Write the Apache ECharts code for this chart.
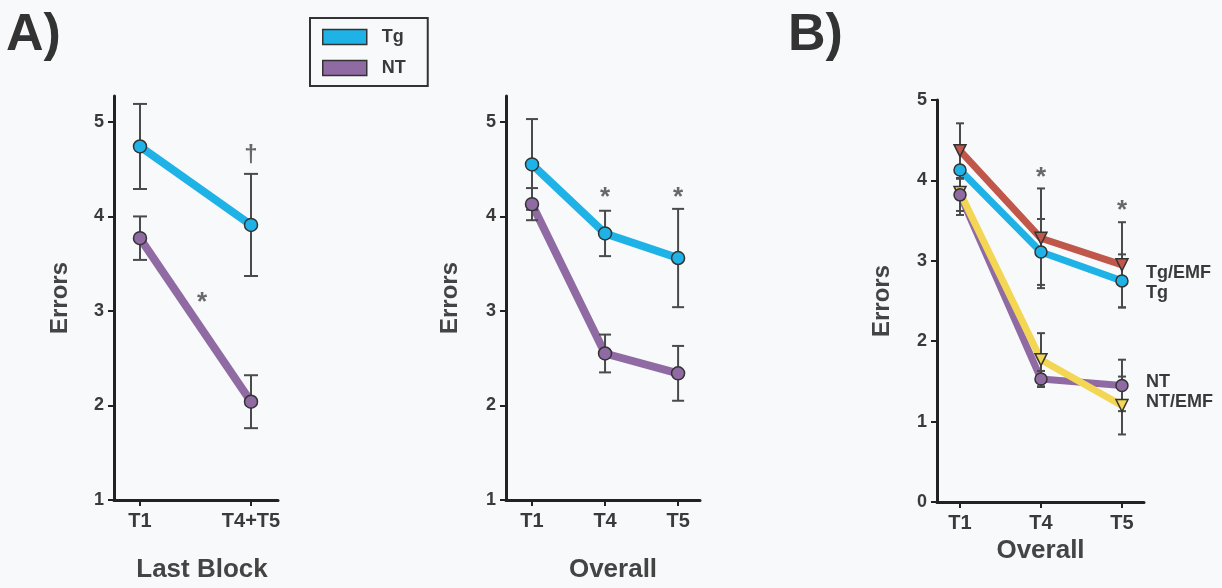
<!DOCTYPE html>
<html>
<head>
<meta charset="utf-8">
<script src="https://cdn.jsdelivr.net/npm/echarts@6/dist/echarts.min.js"></script>
<style>
html,body{margin:0;padding:0;background:#f8f9fa;}
#chart{width:1222px;height:588px;}
</style>
</head>
<body>
<div id="chart"></div>
<script>
// ---------- data ----------
const catsA = ['T1', 'T4+T5'];
const tgA = [4.74, 3.91];
const tgAErr = [0.45, 0.54];
const ntA = [3.77, 2.04];
const ntAErr = [0.23, 0.28];

const catsB = ['T1', 'T4', 'T5'];
const tgB = [4.55, 3.82, 3.56];
const tgBErr = [0.48, 0.24, 0.52];
const ntB = [4.13, 2.55, 2.34];
const ntBErr = [0.17, 0.20, 0.29];

const catsC = ['T1', 'T4', 'T5'];
const tgEmfC = [4.37, 3.28, 2.95];
const tgEmfCErr = [0.34, 0.62, 0.53];
const tgC = [4.13, 3.11, 2.75];
const tgCErr = [0.30, 0.41, 0.33];
const ntC = [3.82, 1.53, 1.45];
const ntCErr = [0.20, 0.10, 0.32];
const ntEmfC = [3.85, 1.77, 1.20];
const ntEmfCErr = [0.28, 0.33, 0.36];

const yTicksAB = [1, 2, 3, 4, 5];
const yTicksC = [0, 1, 2, 3, 4, 5];

// significance marks: [x position (category index), y value, symbol]
const marksA = [[1, 4.65, '†'], [0.56, 3.14, '*']];
const marksB = [[1, 4.25, '*'], [2, 4.25, '*']];
const marksC = [[1, 4.09, '*'], [2, 3.68, '*']];

// ---------- style ----------
const FONT = '"Liberation Sans", Arial, Helvetica, sans-serif';
const TXT = '#3a3a3a';
const COL = { tg: '#1fb2e6', nt: '#8f6aa3', tgEmf: '#c0574b', ntEmf: '#f2d654' };

const chart = echarts.init(document.getElementById('chart'), null, { renderer: 'canvas' });

function xAxisDef(gi, cats, min, max, name, pad) {
  const idx = cats.map((c, i) => i);
  return {
    type: 'value', gridIndex: gi, min: min, max: max,
    axisLine: { show: true, onZero: false, lineStyle: { color: '#222', width: 3 } },
    axisTick: { show: true, length: 6, lineStyle: { color: '#222', width: 2 }, customValues: idx },
    axisLabel: { show: true, customValues: idx, formatter: v => cats[Math.round(v)] || '',
      fontFamily: FONT, fontSize: 20, fontWeight: 'bold', color: TXT, margin: 11 },
    splitLine: { show: false },
    name: name, nameLocation: 'middle', nameGap: pad[0],
    nameTextStyle: { fontFamily: FONT, fontSize: 26, fontWeight: 'bold', color: '#444', padding: [0, 0, 0, pad[1]] }
  };
}
function yAxisDef(gi, ticks, min, max, gap) {
  return {
    type: 'value', gridIndex: gi, min: min, max: max,
    axisLine: { show: true, onZero: false, lineStyle: { color: '#222', width: 3 } },
    axisTick: { show: true, length: 6, lineStyle: { color: '#222', width: 2 }, customValues: ticks },
    axisLabel: { show: true, customValues: ticks, fontFamily: FONT, fontSize: 18, fontWeight: 'bold', color: TXT, margin: 10 },
    splitLine: { show: false },
    name: 'Errors', nameLocation: 'middle', nameGap: gap, nameRotate: 90,
    nameTextStyle: { fontFamily: FONT, fontSize: 24, fontWeight: 'bold', color: '#444' }
  };
}

function lineSeries(name, gi, vals, color, width, extra) {
  return Object.assign({
    type: 'line', name: name, xAxisIndex: gi, yAxisIndex: gi, z: 2,
    data: vals.map((v, i) => [i, v]), showSymbol: false, silent: true,
    lineStyle: { color: color, width: width }, itemStyle: { color: color }
  }, extra || {});
}
function markerSeries(name, gi, vals, color, symbol, size, rotate) {
  return {
    type: 'scatter', name: name, xAxisIndex: gi, yAxisIndex: gi, z: 5, silent: true,
    data: vals.map((v, i) => [i, v]), symbol: symbol, symbolSize: size, symbolRotate: rotate || 0,
    itemStyle: { color: color, borderColor: '#333', borderWidth: 1.5, opacity: 1 }
  };
}
function errSeries(gi, vals, errs, cap) {
  return {
    type: 'custom', xAxisIndex: gi, yAxisIndex: gi, z: 4, silent: true,
    data: vals.map((v, i) => [i, v - errs[i], v + errs[i]]),
    renderItem: function (params, api) {
      const x = api.value(0);
      const lo = api.coord([x, api.value(1)]);
      const hi = api.coord([x, api.value(2)]);
      const st = { stroke: '#4a4a4a', lineWidth: 2 };
      return { type: 'group', children: [
        { type: 'line', shape: { x1: lo[0], y1: lo[1], x2: hi[0], y2: hi[1] }, style: st },
        { type: 'line', shape: { x1: lo[0] - cap, y1: lo[1], x2: lo[0] + cap, y2: lo[1] }, style: st },
        { type: 'line', shape: { x1: hi[0] - cap, y1: hi[1], x2: hi[0] + cap, y2: hi[1] }, style: st }
      ] };
    }
  };
}
function markSeries(gi, marks) {
  return {
    type: 'scatter', xAxisIndex: gi, yAxisIndex: gi, z: 6, silent: true, symbolSize: 0,
    data: marks.map(m => ({ value: [m[0], m[1]], label: {
      show: true, position: 'inside', formatter: m[2],
      fontFamily: FONT, fontSize: m[2] === '*' ? 26 : 24, fontWeight: 'bold',
      color: '#444', offset: m[2] === '*' ? [0, 5] : [0, 0] } }))
  };
}
function endLbl(dy) {
  return { endLabel: { show: true, formatter: '{a}', distance: 24, offset: [0, dy],
    fontFamily: FONT, fontSize: 18, fontWeight: 'bold', color: '#3a3a3a' } };
}

const option = {
  backgroundColor: '#f8f9fa',
  animation: false,
  grid: [
    { left: 114, top: 96, width: 164, height: 405 },
    { left: 506, top: 96, width: 194, height: 405 },
    { left: 937, top: 100, width: 207, height: 402 }
  ],
  xAxis: [
    xAxisDef(0, catsA, -0.234, 1.243, 'Last Block', [57, 12]),
    xAxisDef(1, catsB, -0.356, 2.30, 'Overall', [57, 20]),
    xAxisDef(2, catsC, -0.284, 2.272, 'Overall', [33, 0])
  ],
  yAxis: [
    yAxisDef(0, yTicksAB, 1, 5.274, 42),
    yAxisDef(1, yTicksAB, 1, 5.274, 44),
    yAxisDef(2, yTicksC, 0, 5.0, 43)
  ],
  legend: {
    data: [
      { name: 'Tg', itemStyle: { color: COL.tg, borderColor: '#333', borderWidth: 1.5 } },
      { name: 'NT', itemStyle: { color: COL.nt, borderColor: '#333', borderWidth: 1.5 } }
    ],
    left: 310, top: 18, orient: 'vertical', icon: 'rect', itemWidth: 44, itemHeight: 15, itemGap: 13,
    padding: [10, 22, 9, 12], borderColor: '#333', borderWidth: 2, selectedMode: false,
    textStyle: { fontFamily: FONT, fontSize: 18, fontWeight: 'bold', color: TXT, padding: [0, 0, 0, 10] }
  },
  graphic: [
    { type: 'text', left: 6, top: 10, style: { text: 'A)', font: 'bold 52px ' + FONT, fill: '#333' } },
    { type: 'text', left: 788, top: 10, style: { text: 'B)', font: 'bold 52px ' + FONT, fill: '#333' } }
  ],
  series: [
    // Panel A
    lineSeries('Tg', 0, tgA, COL.tg, 8),
    lineSeries('NT', 0, ntA, COL.nt, 8),
    errSeries(0, tgA, tgAErr, 7),
    errSeries(0, ntA, ntAErr, 7),
    markerSeries('Tg', 0, tgA, COL.tg, 'circle', 13),
    markerSeries('NT', 0, ntA, COL.nt, 'circle', 13),
    markSeries(0, marksA),
    // Panel A (Overall)
    lineSeries('Tg', 1, tgB, COL.tg, 8),
    lineSeries('NT', 1, ntB, COL.nt, 8),
    errSeries(1, tgB, tgBErr, 6),
    errSeries(1, ntB, ntBErr, 6),
    markerSeries('Tg', 1, tgB, COL.tg, 'circle', 13),
    markerSeries('NT', 1, ntB, COL.nt, 'circle', 13),
    markSeries(1, marksB),
    // Panel B
    lineSeries('Tg', 2, tgC, COL.tg, 7, endLbl(12)),
    lineSeries('Tg/EMF', 2, tgEmfC, COL.tgEmf, 7, endLbl(8)),
    lineSeries('NT', 2, ntC, COL.nt, 7, endLbl(-3)),
    lineSeries('NT/EMF', 2, ntEmfC, COL.ntEmf, 7, endLbl(-3)),
    errSeries(2, tgEmfC, tgEmfCErr, 4),
    errSeries(2, tgC, tgCErr, 4),
    errSeries(2, ntC, ntCErr, 4),
    errSeries(2, ntEmfC, ntEmfCErr, 4),
    markerSeries('NT/EMF', 2, ntEmfC, COL.ntEmf, 'triangle', 12, 180),
    markerSeries('NT', 2, ntC, COL.nt, 'circle', 12),
    markerSeries('Tg', 2, tgC, COL.tg, 'circle', 12),
    markerSeries('Tg/EMF', 2, tgEmfC, COL.tgEmf, 'triangle', 12, 180),
    markSeries(2, marksC)
  ]
};
chart.setOption(option);
</script>
</body>
</html>
